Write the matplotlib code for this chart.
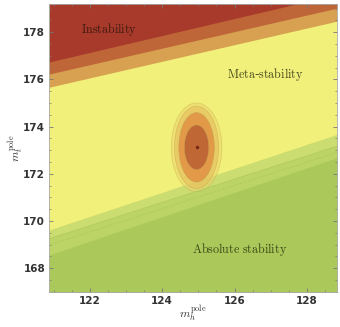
import numpy as np
import matplotlib.pyplot as plt
from matplotlib.patches import Ellipse
from matplotlib.ticker import MultipleLocator

plt.rcParams['mathtext.fontset'] = 'cm'

# границы областей: значения m_t на краях графика (m_h = 120.88 и 128.83)
mh_edges = [120.88, 128.83]
instab_lo = [176.74, 179.60]     # нижняя граница нестабильности
band1_lo = [176.23, 179.02]      # средняя полоса
band2_lo = [175.67, 178.47]      # светлая полоса
meta_lo = [169.62, 173.67]       # нижняя граница метастабильности
green1_lo = [169.24, 173.16]     # сплошная линия
dotted_mt = [168.98, 172.90]     # пунктир
abs_hi = [168.56, 172.68]        # верх абсолютной стабильности

# эллипсы (центр и полуоси)
mh0, mt0 = 124.95, 173.12
half_w = [0.70, 0.61, 0.49, 0.34]
half_h = [1.88, 1.75, 1.47, 0.95]
ell_colors = ['#ecd56c', '#e6bd5c', '#e29a48', '#c06835']
ell_alpha = [0.55, 0.6, 1.0, 1.0]

xlim = (120.88, 128.83)
ylim = (167.0, 179.2)

fig = plt.figure(figsize=(3.4, 3.27), dpi=100)
ax = fig.add_axes([0.145, 0.108, 0.846, 0.88])

x = np.array(mh_edges)
top = ylim[1] + 5
bot = ylim[0] - 5
ax.fill_between(x, bot, top, color='#f0f07a', lw=0)
ax.fill_between(x, band2_lo, top, color='#d8a152', lw=0)
ax.fill_between(x, band1_lo, top, color='#bf6638', lw=0)
ax.fill_between(x, instab_lo, top, color='#a83a2b', lw=0)
ax.fill_between(x, bot, meta_lo, color='#cbdc70', lw=0)
ax.fill_between(x, bot, green1_lo, color='#bcd466', lw=0)
ax.fill_between(x, bot, abs_hi, color='#abc85b', lw=0)
ax.plot(x, green1_lo, color='#b2cc62', lw=0.8)
ax.plot(x, dotted_mt, color='#a9c45a', lw=0.8, ls=':')

for w, h, c, a in zip(half_w, half_h, ell_colors, ell_alpha):
    ax.add_patch(Ellipse((mh0, mt0), 2 * w, 2 * h, facecolor=c, alpha=a,
                         edgecolor='#c9a050', lw=0.4))
ax.plot(mh0, mt0, 'o', color='#7a2a1a', ms=1.5)

ax.text(121.76, 178.1, r'$\mathrm{Instability}$', color='#3e1a10',
        fontsize=8.7, va='center')
ax.text(125.79, 176.2, r'$\mathrm{Meta}$-$\mathrm{stability}$', color='#4a4a20',
        fontsize=8.7, va='center')
ax.text(124.82, 168.8, r'$\mathrm{Absolute\ stability}$', color='#3a4a15',
        fontsize=8.7, va='center')

ax.set_xlim(xlim)
ax.set_ylim(ylim)
ax.xaxis.set_major_locator(MultipleLocator(2))
ax.xaxis.set_minor_locator(MultipleLocator(0.5))
ax.yaxis.set_major_locator(MultipleLocator(2))
ax.yaxis.set_minor_locator(MultipleLocator(0.5))
ax.tick_params(which='both', direction='in', top=True, right=True,
               color='#777777', labelsize=7.5, labelcolor='#333333')
ax.tick_params(which='major', length=3, width=0.6, pad=3)
ax.tick_params(which='minor', length=1.5, width=0.5)
for lab in ax.get_xticklabels() + ax.get_yticklabels():
    lab.set_fontweight('bold')
for s in ax.spines.values():
    s.set_color('#aaaaaa')
    s.set_linewidth(0.6)

ax.set_xlabel(r'$m_h^{\rm pole}$', fontsize=8.5, color='#333333')
ax.set_ylabel(r'$m_t^{\rm pole}$', fontsize=8.5, color='#333333')
ax.xaxis.set_label_coords(0.5, -0.042)
ax.yaxis.set_label_coords(-0.084, 0.5)

fig.savefig('out.png', dpi=100)
